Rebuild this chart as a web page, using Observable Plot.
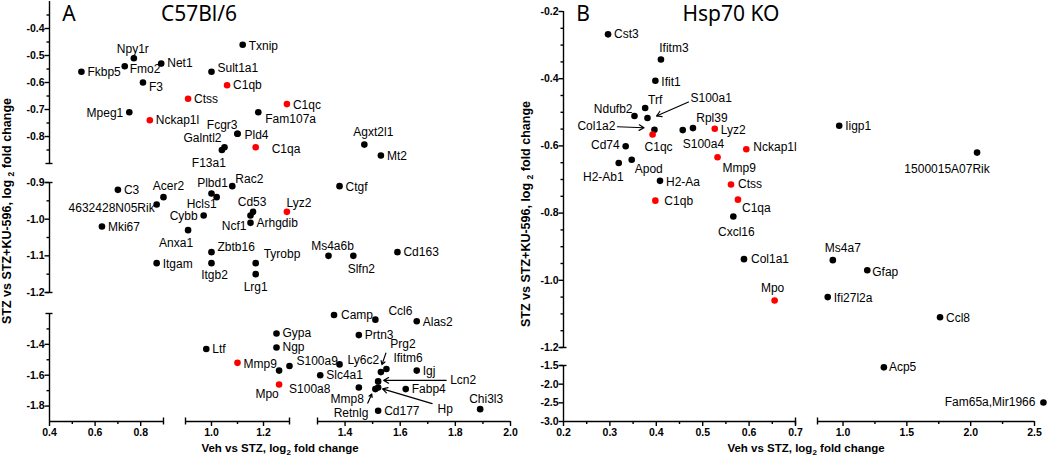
<!DOCTYPE html>
<html><head><meta charset="utf-8">
<script src="https://cdn.jsdelivr.net/npm/d3@7"></script>
<script src="https://cdn.jsdelivr.net/npm/@observablehq/plot@0.6"></script>
<style>
body{margin:0;background:#fff;}
#wrap{display:flex;width:1050px;height:459px;}
svg{overflow:visible;}
svg text{font-family:"Liberation Sans",Arial,sans-serif;}
</style></head><body><div id="wrap"></div>
<script>
// ---------- Panel A : C57Bl/6 ----------
const genesA = ["Npy1r","Fkbp5","Fmo2","Net1","F3","Txnip","Sult1a1","C1qb","Ctss","Mpeg1","Nckap1l","Fam107a","Fcgr3","Pld4","Galntl2","F13a1","C1qa","C1qc","Agxt2l1","Mt2","Ctgf","Lyz2","Rac2","Plbd1","Hcls1","Cybb","C3","Acer2","4632428N05Rik","Cd53","Ncf1","Arhgdib","Mki67","Anxa1","Zbtb16","Itgam","Itgb2","Tyrobp","Lrg1","Ms4a6b","Slfn2","Cd163","Camp","Ccl6","Alas2","Prtn3","Gypa","Ngp","Mmp9","Ltf","S100a9","S100a8","Mpo","Ly6c2","Slc4a1","Mmp8","Retnlg","Prg2","Ifitm6","Lcn2","Hp","Igj","Fabp4","Cd177","Chi3l3"];
const xA = [0.77,0.54,0.73,0.89,0.81,1.12,1.00,1.06,0.91,0.75,0.84,1.18,1.10,1.10,1.05,1.04,1.17,1.29,1.47,1.53,1.38,1.29,1.08,1.00,1.02,0.97,0.70,0.90,0.87,1.16,1.15,1.15,0.63,0.91,1.00,0.87,1.00,1.17,1.17,1.34,1.43,1.59,1.36,1.51,1.66,1.45,1.25,1.25,1.10,0.98,1.30,1.26,1.26,1.38,1.31,1.45,1.51,1.53,1.55,1.52,1.52,1.66,1.62,1.52,1.89];
const yA = [-0.51,-0.56,-0.54,-0.53,-0.60,-0.46,-0.56,-0.61,-0.66,-0.71,-0.74,-0.71,-0.79,-0.79,-0.84,-0.85,-0.84,-0.68,-0.83,-0.87,-0.91,-0.98,-0.91,-0.93,-0.94,-0.99,-0.92,-0.94,-0.96,-0.98,-0.99,-1.01,-1.02,-1.03,-1.09,-1.12,-1.12,-1.12,-1.15,-1.10,-1.10,-1.09,-1.21,-1.24,-1.25,-1.34,-1.33,-1.42,-1.52,-1.43,-1.54,-1.57,-1.66,-1.53,-1.60,-1.68,-1.69,-1.58,-1.56,-1.64,-1.68,-1.57,-1.69,-1.83,-1.82];
const redA = ["C1qb","Ctss","Nckap1l","C1qa","C1qc","Lyz2","Mmp9","Mpo"];

// ---------- Panel B : Hsp70 KO ----------
const genesB = ["Cst3","Ifitm3","Ifit1","Trf","Ndufb2","S100a1","Col1a2","C1qc","Rpl39","S100a4","Lyz2","Nckap1l","Mmp9","Cd74","H2-Ab1","Apod","H2-Aa","C1qb","Ctss","C1qa","Cxcl16","Col1a1","Mpo","Iigp1","1500015A07Rik","Ms4a7","Gfap","Ifi27l2a","Ccl8","Acp5","Fam65a,Mir1966"];
const xB = [0.296,0.410,0.398,0.376,0.353,0.381,0.396,0.392,0.479,0.457,0.526,0.594,0.532,0.334,0.319,0.347,0.408,0.398,0.561,0.576,0.566,0.589,0.655,0.97,2.05,0.92,1.19,0.88,1.76,1.32,2.57];
const yB = [-0.268,-0.343,-0.406,-0.487,-0.511,-0.517,-0.552,-0.566,-0.547,-0.553,-0.549,-0.610,-0.634,-0.601,-0.651,-0.641,-0.704,-0.763,-0.715,-0.760,-0.810,-0.937,-1.060,-0.54,-0.62,-0.94,-0.97,-1.05,-1.11,-1.55,-2.49];
const redB = ["C1qc","Lyz2","Nckap1l","Mmp9","Ctss","C1qa","C1qb","Mpo"];

// ---------- Axis breaks & ticks ----------
const xDomA = [0.4, 0.9, 0.9001, 1.3, 1.3001, 2.0];
const yDomA = [-1.9, -1.2001, -1.2, -0.9, -0.8999, -0.3];
const xMajorA = [0.4,0.6,0.8,1.0,1.2,1.4,1.6,1.8,2.0];
const xMinorA = [0.5,0.7,1.1,1.5,1.7,1.9];
const yMajorA = [-0.4,-0.5,-0.6,-0.7,-0.8,-0.9,-1.0,-1.1,-1.2,-1.4,-1.6,-1.8];
const yMinorA = [-0.35,-0.45,-0.55,-0.65,-0.75,-0.85,-0.95,-1.05,-1.15,-1.3,-1.5,-1.7];

const xDomB = [0.2, 0.7, 0.8, 2.5];
const yDomB = [-3.0, -1.5, -1.2, -0.2];
const xMajorB = [0.2,0.3,0.4,0.5,0.6,0.7,1.0,1.5,2.0,2.5];
const xMinorB = [0.25,0.35,0.45,0.55,0.65,1.25,1.75,2.25];
const yMajorB = [-0.2,-0.4,-0.6,-0.8,-1.0,-1.2,-1.5,-2.0,-2.5,-3.0];
const yMinorB = [-0.25,-0.3,-0.35,-0.45,-0.5,-0.55,-0.65,-0.7,-0.75,-0.85,-0.9,-0.95,-1.05,-1.1,-1.15];

// ---------- Text ----------
const titlesA = ["A", "C57Bl/6"];
const titlesB = ["B", "Hsp70 KO"];
const yTitle = ["STZ vs STZ+KU-596, log ", "2", " fold change"];
const xTitle = ["Veh vs STZ, log", "2", " fold change"];

// ---------- Label placement (anchor, dx px, dy px) ----------
const placeA = {Npy1r:["middle",-1,-9],Fkbp5:["start",6,0],Fmo2:["start",5,3],Net1:["start",6,0],F3:["start",6,5],Txnip:["start",6,1],Sult1a1:["start",6,-4],C1qb:["start",6,0],Ctss:["start",6,0],Mpeg1:["end",-6,1],Nckap1l:["start",6,0],Fam107a:["start",7,7],Fcgr3:["end",0,-9],Pld4:["start",7,1],Galntl2:["end",-3,-9],F13a1:["middle",-13,13],C1qa:["start",16,2],C1qc:["start",6,1],Agxt2l1:["middle",9,-12],Mt2:["start",6,1],Ctgf:["start",6,1],Lyz2:["middle",12,-9],Rac2:["start",3,-7],Plbd1:["middle",1,-10],Hcls1:["end",0,7],Cybb:["end",-6,1],C3:["start",6,0],Acer2:["middle",5,-11],"4632428N05Rik":["end",-2,4],Cd53:["middle",-1,-10],Ncf1:["end",-4,11],Arhgdib:["start",6,0],Mki67:["start",6,1],Anxa1:["middle",-12,13],Zbtb16:["start",6,-5],Itgam:["start",6,1],Itgb2:["middle",3,12],Tyrobp:["start",8,-9],Lrg1:["middle",0,13],Ms4a6b:["middle",4,-10],Slfn2:["middle",8,13],Cd163:["start",6,0],Camp:["start",7,0],Ccl6:["start",13,-9],Alas2:["start",6,1],Prtn3:["start",6,0],Gypa:["start",6,0],Ngp:["start",6,0],Mmp9:["start",6,1],Ltf:["start",6,0],S100a9:["start",7,-5],S100a8:["start",10,19],Mpo:["middle",-12,10],Ly6c2:["start",8,-4],Slc4a1:["start",6,0],Mmp8:["end",5,12],Retnlg:["end",-7,24],Prg2:["middle",22,-28],Ifitm6:["start",7,-11],Lcn2:["start",72,-1],Hp:["middle",67,22],Igj:["start",6,1],Fabp4:["start",6,0],Cd177:["start",6,0],Chi3l3:["middle",6,-10]};
const placeB = {Cst3:["start",6,0],Ifitm3:["middle",13,-11],Ifit1:["start",6,1],Trf:["middle",10,-8],Ndufb2:["end",-2,-7],S100a1:["start",43,-20],Col1a2:["end",-39,-4],C1qc:["middle",6,13],Rpl39:["middle",19,-10],S100a4:["start",0,14],Lyz2:["start",6,1],Nckap1l:["start",7,-2],Mmp9:["start",5,11],Cd74:["end",-6,-1],"H2-Ab1":["end",5,14],Apod:["start",3,9],"H2-Aa":["start",6,1],C1qb:["start",9,0],Ctss:["start",7,0],C1qa:["start",4,8],Cxcl16:["middle",3,16],Col1a1:["start",7,0],Mpo:["middle",-2,-12],Iigp1:["start",6,0],"1500015A07Rik":["middle",-30,17],Ms4a7:["middle",10,-12],Gfap:["start",5,2],Ifi27l2a:["start",6,1],Ccl8:["start",6,1],Acp5:["start",5,0],"Fam65a,Mir1966":["end",-8,0]};
// arrows: tail dx,dy  head dx,dy (px from dot)
const arrowsA = {Prg2:[5,-19,1,-7.5],Lcn2:[68,-1,5.6,-1],Hp:[54,16,4.4,1.3],Retnlg:[-7.6,14,-3.6,5]};
const arrowsB = {S100a1:[41,-16,9,-2],Col1a2:[-37,-3,-10.4,-2]};

const fmt = d => d.toFixed(1);

function buildPanel(o) {
  const sx = d3.scaleLinear(o.xDom, o.xRng);
  const sy = d3.scaleLinear(o.yDom, o.yRng);
  const rows = o.genes.map((g, i) => {
    const [anchor, dx, dy] = o.place[g] || ["start", 6, 0];
    return {gene: g, x: o.xv[i], y: o.yv[i], red: o.reds.includes(g), anchor,
      lx: sx.invert(sx(o.xv[i]) + dx), ly: sy.invert(sy(o.yv[i]) + dy)};
  });
  const arrows = Object.entries(o.arrows).map(([g, [tdx, tdy, hdx, hdy]]) => {
    const r = rows.find(d => d.gene === g);
    const px = sx(r.x), py = sy(r.y);
    return {x1: sx.invert(px + tdx), y1: sy.invert(py + tdy), x2: sx.invert(px + hdx), y2: sy.invert(py + hdy)};
  });
  const segs = dom => d3.range(0, dom.length, 2).map(i => [dom[i], dom[i + 1]]);
  const caps = dom => dom.slice(1, -1);
  const x0 = o.xDom[0], y0 = o.yDom[0];
  const lw = 1.4;
  const plot = Plot.plot({
    width: o.width, height: 459,
    marginLeft: o.mLeft, marginBottom: 38, marginTop: 0, marginRight: 0,
    style: {fontFamily: '"Liberation Sans", Arial, sans-serif', overflow: "visible", background: "transparent"},
    x: {type: "linear", domain: o.xDom, range: o.xRng, axis: null, label: null},
    y: {type: "linear", domain: o.yDom, range: o.yRng, axis: null, label: null},
    marks: [
      Plot.ruleY(segs(o.xDom), {x1: d => d[0], x2: d => d[1], y: () => y0, stroke: "black", strokeWidth: lw}),
      Plot.ruleX(segs(o.yDom), {y1: d => d[0], y2: d => d[1], x: () => x0, stroke: "black", strokeWidth: lw}),
      Plot.ruleX(caps(o.xDom), {x: d => d, y1: () => y0, y2: () => y0, insetTop: -3.5, insetBottom: -3.5, stroke: "black", strokeWidth: lw}),
      Plot.ruleY(caps(o.yDom), {y: d => d, x1: () => x0, x2: () => x0, insetLeft: -3.5, insetRight: -3.5, stroke: "black", strokeWidth: lw}),
      Plot.axisX(o.xMajor, {anchor: "bottom", tickSize: 5, tickPadding: 2, tickFormat: fmt, fontSize: 10.5, fontWeight: "bold", stroke: "black", fill: "black", strokeWidth: lw, label: null}),
      Plot.axisX(o.xMinor, {anchor: "bottom", tickSize: 3, fill: "none", stroke: "black", strokeWidth: lw, label: null}),
      Plot.axisY(o.yMajor, {anchor: "left", tickSize: 4.5, tickPadding: 0.5, tickFormat: fmt, fontSize: 10.5, fontWeight: "bold", stroke: "black", fill: "black", strokeWidth: lw, label: null}),
      Plot.axisY(o.yMinor, {anchor: "left", tickSize: 2.5, fill: "none", stroke: "black", strokeWidth: lw, label: null}),
      Plot.arrow(arrows, {x1: "x1", y1: "y1", x2: "x2", y2: "y2", stroke: "black", strokeWidth: 1.2, headLength: 7}),
      Plot.dot(rows.filter(d => !d.red), {x: "x", y: "y", r: 3.3, fill: "black"}),
      Plot.dot(rows.filter(d => d.red), {x: "x", y: "y", r: 3.3, fill: "#f00"}),
      ...["start", "middle", "end"].map(a => Plot.text(rows.filter(d => d.anchor === a), {x: "lx", y: "ly", text: "gene", textAnchor: a, lineAnchor: "middle", fontSize: 12, fill: "black"}))
    ]
  });
  const svg = d3.select(plot);
  // panel letter + title
  svg.append("text").attr("x", o.letterX).attr("y", 21).attr("font-size", 21)
    .style("font-family", '"Noto Sans", sans-serif').text(o.titles[0]);
  svg.append("text").attr("x", o.titleX).attr("y", 21).attr("font-size", 21)
    .style("font-family", '"Noto Sans", sans-serif').text(o.titles[1]);
  // y title
  const yt = svg.append("text").attr("transform", `translate(${o.yTitleX},${o.yTitleY}) rotate(-90)`)
    .attr("text-anchor", "middle").attr("font-size", 12.5).attr("font-weight", "bold");
  yt.append("tspan").text(yTitle[0]);
  yt.append("tspan").attr("font-size", 8.5).attr("dy", 3).text(yTitle[1]);
  yt.append("tspan").attr("dy", -3).text(yTitle[2]);
  // x title
  const xt = svg.append("text").attr("x", o.xTitleX).attr("y", 452)
    .attr("text-anchor", "middle").attr("font-size", 11.5).attr("font-weight", "bold");
  xt.append("tspan").text(xTitle[0]);
  xt.append("tspan").attr("font-size", 8).attr("dy", 3).text(xTitle[1]);
  xt.append("tspan").attr("dy", -3).text(xTitle[2]);
  return plot;
}

const wrap = document.getElementById("wrap");
wrap.append(buildPanel({
  genes: genesA, xv: xA, yv: yA, reds: redA, place: placeA, arrows: arrowsA,
  xDom: xDomA, xRng: [49,163,185,289,317,510], yDom: yDomA, yRng: [421,313,292,182,163,1],
  xMajor: xMajorA, xMinor: xMinorA, yMajor: yMajorA, yMinor: yMinorA,
  width: 518, mLeft: 49, titles: titlesA, letterX: 69, titleX: 199,
  yTitleX: 10.5, yTitleY: 211, xTitleX: 280
}));
const off = 518;
wrap.append(buildPanel({
  genes: genesB, xv: xB, yv: yB, reds: redB, place: placeB, arrows: arrowsB,
  xDom: xDomB, xRng: [563-off,795-off,817-off,1034-off], yDom: yDomB, yRng: [421,365,347,11],
  xMajor: xMajorB, xMinor: xMinorB, yMajor: yMajorB, yMinor: yMinorB,
  width: 1050-off, mLeft: 563-off, titles: titlesB, letterX: 583-off, titleX: 731-off,
  yTitleX: 530-off, yTitleY: 214, xTitleX: 806-off
}));
</script></body></html>
